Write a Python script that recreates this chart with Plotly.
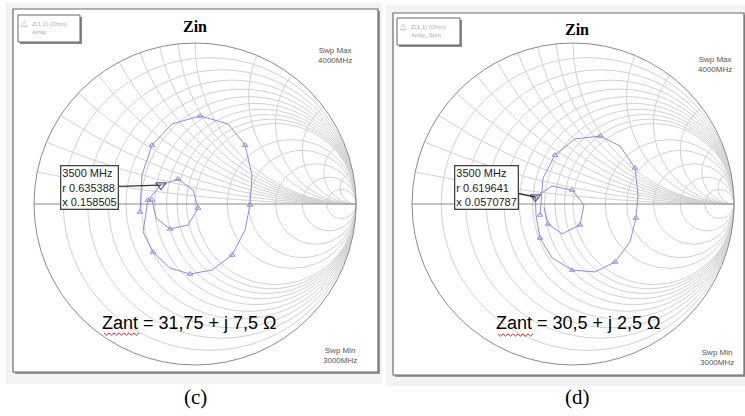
import numpy as np
import plotly.graph_objects as go

W, H = 745, 416

# ---------------- data (reflection coefficient) ----------------
left_gamma_re = [-0.342, -0.329, -0.267, -0.143, 0.031, 0.205, 0.311, 0.354, 0.342, 0.311,
                 0.230, 0.106, -0.031, -0.155, -0.261, -0.323, -0.292, -0.2116, -0.106,
                 -0.012, 0.019, -0.043, -0.155, -0.242, -0.267]
left_gamma_im = [-0.050, 0.180, 0.366, 0.497, 0.547, 0.497, 0.366, 0.180, -0.006, -0.161,
                 -0.317, -0.410, -0.435, -0.398, -0.298, -0.174, 0.025, 0.1174, 0.155,
                 0.087, -0.025, -0.130, -0.155, -0.087, 0.025]
right_gamma_re = [-0.205, -0.186, -0.112, 0.012, 0.168, 0.292, 0.385, 0.404, 0.391, 0.354,
                  0.261, 0.137, -0.006, -0.130, -0.205, -0.230, -0.2333, -0.130, -0.006,
                  0.068, 0.043, -0.068, -0.155, -0.180]
right_gamma_im = [-0.068, 0.161, 0.304, 0.404, 0.422, 0.360, 0.224, 0.056, -0.087, -0.236,
                  -0.360, -0.422, -0.410, -0.335, -0.211, -0.068, 0.0435, 0.112, 0.087,
                  -0.006, -0.130, -0.186, -0.124, -0.019]

left_marker_r, left_marker_x = 0.635388, 0.158505
right_marker_r, right_marker_x = 0.619641, 0.0570787

left_zant = "Zant = 31,75 + j 7,5 \u03a9"
right_zant = "Zant = 30,5 + j 2,5 \u03a9"
panel_labels = ["(c)", "(d)"]
sweep_max = "Swp Max<br>4000MHz"
sweep_min = "Swp Min<br>3000MHz"
legend_texts = ["Z(1,1) (Ohm)<br>Array", "Z(1,1) (Ohm)<br>Array_Spm"]

grid_r = [0.1, 0.2, 0.3, 0.4, 0.5, 0.6, 0.7, 0.8, 0.9, 1.0, 1.5, 2.0, 3.0, 5.0, 10.0]
grid_x = [0.1, 0.2, 0.3, 0.4, 0.5, 0.6, 0.7, 0.8, 0.9, 1.0, 1.5, 2.0, 3.0, 5.0, 10.0]


def to_z(gre, gim):
    g = np.array(gre) + 1j * np.array(gim)
    z = (1 + g) / (1 - g)
    return z.real, z.imag


def px(x):
    return x / W


def py(y):
    return 1 - y / H


TRACE = "#8c8ce6"
GRID = "#d2d2d2"

charts = [
    dict(cx=195, cy=204, R=161, name="smith"),
    dict(cx=573, cy=204, R=161, name="smith2"),
]

fig = go.Figure()

for i, (gre, gim, mr, mx) in enumerate([
        (left_gamma_re, left_gamma_im, left_marker_r, left_marker_x),
        (right_gamma_re, right_gamma_im, right_marker_r, right_marker_x)]):
    zr, zi = to_z(gre, gim)
    sub = "smith" if i == 0 else "smith2"
    fig.add_trace(go.Scattersmith(real=zr, imag=zi, mode="lines",
                                  line=dict(color=TRACE, width=1), subplot=sub,
                                  showlegend=False, hoverinfo="skip"))
    fig.add_trace(go.Scattersmith(real=zr[::2], imag=zi[::2], mode="markers",
                                  marker=dict(symbol="triangle-up-open", size=5,
                                              color=TRACE, line=dict(width=1)),
                                  subplot=sub, showlegend=False, hoverinfo="skip"))
    fig.add_trace(go.Scattersmith(real=[mr], imag=[mx], mode="markers",
                                  marker=dict(symbol="triangle-down-open", size=9,
                                              color="#5a5a8a", line=dict(width=1.2)),
                                  subplot=sub, showlegend=False, hoverinfo="skip"))

axis_common = dict(gridcolor=GRID, linecolor="#8a8a8a", showticklabels=False, ticks="")
for c in charts:
    dom = dict(x=[px(c["cx"] - c["R"]), px(c["cx"] + c["R"])],
               y=[py(c["cy"] + c["R"]), py(c["cy"] - c["R"])])
    fig.update_layout(**{c["name"]: dict(
        domain=dom, bgcolor="rgba(0,0,0,0)",
        realaxis=dict(tickvals=grid_r, **axis_common),
        imaginaryaxis=dict(tickvals=grid_x, **axis_common))})

shapes = []
for (gx0, gy0, gx1, gy1), (fx0, fy0, fx1, fy1) in [
        ((6, 3, 382, 384), (13, 9, 378, 372)),
        ((386, 5, 745, 386), (393, 13, 744, 375))]:
    shapes.append(dict(type="rect", xref="paper", yref="paper", layer="below",
                       x0=px(gx0), x1=px(gx1), y0=py(gy1), y1=py(gy0),
                       fillcolor="#f3f3f3", line=dict(width=0)))
    shapes.append(dict(type="rect", xref="paper", yref="paper", layer="below",
                       x0=px(fx0 + 2), x1=px(fx1 + 2), y0=py(fy1 + 2), y1=py(fy0 + 2),
                       fillcolor="#9a9a9a", line=dict(width=0)))
    shapes.append(dict(type="rect", xref="paper", yref="paper", layer="below",
                       x0=px(fx0), x1=px(fx1), y0=py(fy1), y1=py(fy0),
                       fillcolor="white", line=dict(color="#6a6a6a", width=1.2)))

for (lx0, ly0, lx1, ly1) in [(18, 15, 80, 42), (397, 18, 460, 45)]:
    shapes.append(dict(type="rect", xref="paper", yref="paper",
                       x0=px(lx0 + 2), x1=px(lx1 + 2), y0=py(ly1 + 2), y1=py(ly0 + 2),
                       fillcolor="#8a8a8a", line=dict(width=0)))
    shapes.append(dict(type="rect", xref="paper", yref="paper",
                       x0=px(lx0), x1=px(lx1), y0=py(ly1), y1=py(ly0),
                       fillcolor="white", line=dict(color="#666", width=1)))

for x0, x1, yb in [(104, 140, 334), (498, 535, 335)]:
    pts = []
    k = 0
    xx = x0
    while xx <= x1:
        pts.append((xx, yb + (1.2 if k % 2 else -1.2)))
        xx += 2.5
        k += 1
    path = "M " + " L ".join(f"{px(a):.5f},{py(b):.5f}" for a, b in pts)
    shapes.append(dict(type="path", xref="paper", yref="paper", path=path,
                       line=dict(color="#d02020", width=1)))

ann = []


def text(x, y, s, size, color="#000", family="Liberation Sans", xanchor="center", **kw):
    ann.append(dict(x=px(x), y=py(y), xref="paper", yref="paper", text=s,
                    showarrow=False, xanchor=xanchor, yanchor="middle",
                    font=dict(size=size, color=color, family=family), **kw))


for k, (zant, lab) in enumerate(zip([left_zant, right_zant], panel_labels)):
    if k == 0:
        text(195, 27, "<b>Zin</b>", 16, family="Liberation Serif")
        text(335, 56, sweep_max, 8, color="#555", align="center")
        text(340, 355, sweep_min, 8, color="#555", align="center")
        text(189, 323, zant, 18)
        text(195, 397, lab, 21, family="Liberation Serif")
    else:
        text(577, 30, "<b>Zin</b>", 16, family="Liberation Serif")
        text(715, 64, sweep_max, 8, color="#555", align="center")
        text(717, 357, sweep_min, 8, color="#555", align="center")
        text(578, 323, zant, 18)
        text(577, 397, lab, 21, family="Liberation Serif")

for (lx, ly), s in zip([(18, 15), (397, 18)], legend_texts):
    text(lx + 6, ly + 8, "\u25b3", 8, color="#9a9ae0")
    text(lx + 12, ly + 13, s, 6, color="#a9a9c6", xanchor="left", align="left")

for c, mr, mx, dx, dy in [
        (charts[0], left_marker_r, left_marker_x, -71, 2),
        (charts[1], right_marker_r, right_marker_x, -49, -10)]:
    z = complex(mr, mx)
    g = (z - 1) / (z + 1)
    mxp = c["cx"] + g.real * c["R"]
    myp = c["cy"] - g.imag * c["R"]
    ann.append(dict(x=px(mxp), y=py(myp), xref="paper", yref="paper",
                    text=f"3500 MHz<br>r {mr:g}<br>x {mx:g}",
                    showarrow=True, arrowhead=0, arrowwidth=1.3, arrowcolor="#333",
                    ax=dx, ay=dy, align="left", bgcolor="white",
                    bordercolor="#444", borderwidth=1.3, borderpad=1,
                    font=dict(size=11, color="#222", family="Liberation Sans")))

fig.update_layout(width=W, height=H, margin=dict(l=0, r=0, t=0, b=0),
                  paper_bgcolor="white", shapes=shapes, annotations=ann,
                  showlegend=False)

fig.write_html("out.html", config=dict(displayModeBar=False),
               post_script="document.body.style.margin='0';")
